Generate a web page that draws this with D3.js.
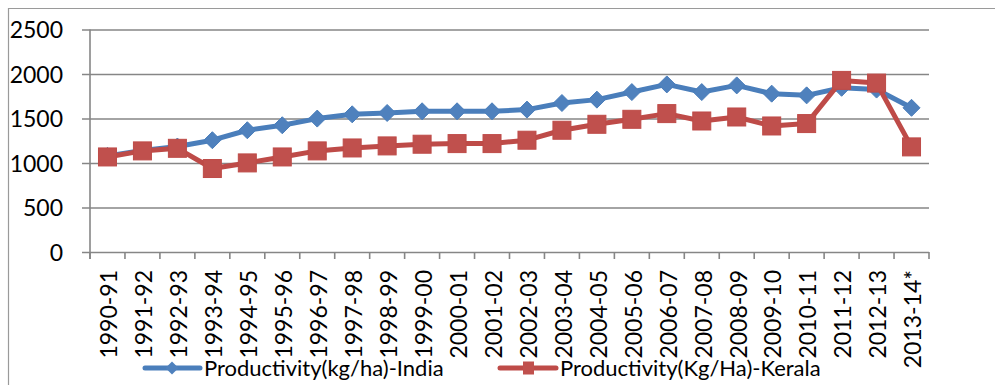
<!DOCTYPE html>
<html>
<head>
<meta charset="utf-8">
<script src="https://cdn.jsdelivr.net/npm/d3@7"></script>
<style>
  html, body { margin: 0; padding: 0; background: #fff; }
  svg { display: block; }
  text { font-family: Lato, "Open Sans", sans-serif; fill: #000; }
</style>
</head>
<body>
<svg id="chart" width="995" height="385"></svg>
<script>
// Crop years on the x axis
const years = ["1990-91","1991-92","1992-93","1993-94","1994-95","1995-96","1996-97",
  "1997-98","1998-99","1999-00","2000-01","2001-02","2002-03","2003-04","2004-05",
  "2005-06","2006-07","2007-08","2008-09","2009-10","2010-11","2011-12","2012-13","2013-14*"];

// Productivity, kg per hectare
const india  = [1080, 1140, 1185, 1256, 1368, 1424, 1499, 1547, 1562, 1581, 1581, 1581,
  1600, 1674, 1712, 1797, 1883, 1797, 1872, 1779, 1760, 1845, 1825, 1620];
const kerala = [1068, 1136, 1165, 938, 1001, 1068, 1136, 1169, 1192, 1211, 1218, 1218,
  1256, 1368, 1435, 1491, 1555, 1472, 1517, 1416, 1443, 1928, 1898, 1181];

const yTicks = [0, 500, 1000, 1500, 2000, 2500];
const seriesNames = ["Productivity(kg/ha)-India", "Productivity(Kg/Ha)-Kerala"];

const svg = d3.select("#chart");
const plot = { left: 90, right: 929, top: 29.5, bottom: 252 };

const x = d3.scaleBand().domain(years).range([plot.left, plot.right]);
const y = d3.scaleLinear().domain([0, 2500]).range([plot.bottom, plot.top]);

// Outer chart frame (runs off the right and bottom edges)
svg.append("path")
  .attr("d", "M8.5,385V8.5H995")
  .attr("fill", "none").attr("stroke", "#9a9a9a").attr("stroke-width", 1.2);

// Horizontal gridlines with y-axis ticks and labels
const yAxis = d3.axisLeft(y).tickValues(yTicks).tickFormat(d3.format("d"))
  .tickSize(-(plot.right - plot.left)).tickPadding(0);
const gy = svg.append("g").attr("transform", `translate(${plot.left},0)`).call(yAxis);
gy.select(".domain").remove();
gy.selectAll(".tick line")
  .attr("x1", -8)
  .attr("stroke", "#868686").attr("stroke-width", 1.6);
gy.selectAll(".tick text")
  .attr("x", -27).attr("dy", "0.36em")
  .style("font-size", "23px").attr("text-anchor", "end");

// Y axis line
svg.append("line")
  .attr("x1", plot.left).attr("x2", plot.left)
  .attr("y1", plot.top).attr("y2", plot.bottom + 7)
  .attr("stroke", "#868686").attr("stroke-width", 1.6);

// X axis ticks at category boundaries
const bounds = years.map(d => x(d)).concat([plot.right]);
svg.append("g").selectAll("line").data(bounds).join("line")
  .attr("x1", d => d).attr("x2", d => d)
  .attr("y1", plot.bottom).attr("y2", plot.bottom + 7)
  .attr("stroke", "#868686").attr("stroke-width", 1.6);

// Rotated category labels
svg.append("g").selectAll("text").data(years).join("text")
  .attr("transform", d => `translate(${x(d) + x.bandwidth() / 2 + 1.5},270) rotate(-90)`)
  .attr("text-anchor", "end").attr("dy", "0.36em")
  .style("font-size", "23px")
  .text(d => d);

const cx = d => x(d) + x.bandwidth() / 2;
const line = d3.line().x((v, i) => cx(years[i])).y(v => y(v));

const diamond = (s) => `M0,${-s}L${s},0L0,${s}L${-s},0Z`;

// India series: line with diamond markers
svg.append("path").datum(india)
  .attr("d", line).attr("fill", "none")
  .attr("stroke", "#4A7EBB").attr("stroke-width", 5).attr("stroke-linejoin", "round");
svg.append("g").selectAll("path").data(india).join("path")
  .attr("transform", (v, i) => `translate(${cx(years[i])},${y(v)})`)
  .attr("d", diamond(8.5))
  .attr("fill", "#4F81BD").attr("stroke", "#4A7EBB").attr("stroke-width", 1);

// Kerala series: line with square markers
svg.append("path").datum(kerala)
  .attr("d", line).attr("fill", "none")
  .attr("stroke", "#BE4B48").attr("stroke-width", 5).attr("stroke-linejoin", "round");
svg.append("g").selectAll("rect").data(kerala).join("rect")
  .attr("x", (v, i) => cx(years[i]) - 9).attr("y", v => y(v) - 9)
  .attr("width", 18).attr("height", 18)
  .attr("fill", "#C0504D").attr("stroke", "#BE4B48").attr("stroke-width", 1);

// Legend
const legY = 368;
const leg = svg.append("g");
leg.append("line").attr("x1", 145).attr("x2", 200).attr("y1", legY).attr("y2", legY)
  .attr("stroke", "#4A7EBB").attr("stroke-width", 5).attr("stroke-linecap", "round");
leg.append("path").attr("transform", `translate(172,${legY})`).attr("d", diamond(6.5))
  .attr("fill", "#4F81BD");
leg.append("text").attr("x", 204).attr("y", legY).attr("dy", "0.36em")
  .style("font-size", "22px").text(seriesNames[0]);

leg.append("line").attr("x1", 500).attr("x2", 556).attr("y1", legY).attr("y2", legY)
  .attr("stroke", "#BE4B48").attr("stroke-width", 5).attr("stroke-linecap", "round");
leg.append("rect").attr("x", 523).attr("y", legY - 6.5).attr("width", 11).attr("height", 13)
  .attr("fill", "#C0504D");
leg.append("text").attr("x", 560).attr("y", legY).attr("dy", "0.36em")
  .style("font-size", "22px").text(seriesNames[1]);
</script>
</body>
</html>
